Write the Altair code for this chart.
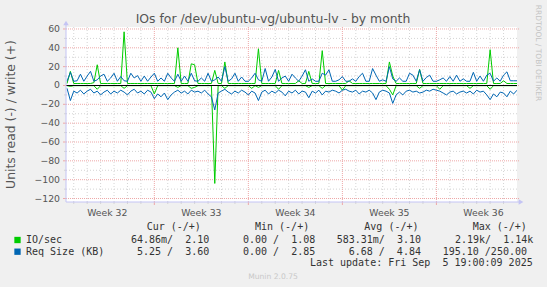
import altair as alt
import pandas as pd

# ------------------------------------------------------------------ text
TITLE = "IOs for /dev/ubuntu-vg/ubuntu-lv - by month"
Y_TITLE = "Units read (-) / write (+)"
SIDE_TEXT = "RRDTOOL / TOBI OETIKER"
FOOTER = "Munin 2.0.75"
WEEK_LABELS = ["Week 32", "Week 33", "Week 34", "Week 35", "Week 36"]
LEG_HEADERS = ["Cur (-/+)", "Min (-/+)", "Avg (-/+)", "Max (-/+)"]
SERIES_NAMES = ["IO/sec", "Req Size (KB)"]
ROW_IO = ["64.86m/  2.10", "0.00 /  1.08", "583.31m/  3.10", "2.19k/  1.14k"]
ROW_RQ = ["5.25 /  3.60", "0.00 /  2.85", "6.68 /  4.84", "195.10 /250.00"]
LAST_UPDATE = "Last update: Fri Sep  5 19:00:09 2025"

# ------------------------------------------------------------------ axes (days since Mon of week 32)
WEEK_CENTERS = [3.5, 10.5, 17.5, 24.5, 31.5]
WEEK_STARTS = [7, 14, 21, 28]
DAY_LINES = [d for d in range(1, 34) if d % 7 != 0]
Y_MAJOR = [60, 40, 20, 0, -20, -40, -60, -80, -100, -120]
Y_MINOR = [50, 30, 10, -10, -30, -50, -70, -90, -110]
X_DOMAIN = [0.424, 34.0]
Y_DOMAIN = [-123.7, 62.1]

# ------------------------------------------------------------------ series (6-hour samples, starting day 0.5)
DAYS = [0.5 + 0.25 * i for i in range(135)]

io_write = [
    2.1, 15, 2.1, 2.1, 2.1, 2.1, 2.1, 2.1, 3, 22,
    2.1, 2.1, 2.1, 2.1, 2.1, 2.1, 2.1, 57, 2.1, 2.1,
    2.1, 2.1, 2.1, 2.1, 2.1, 2.1, 2.1, 2.1, 2.1, 2.1,
    2.1, 2.1, 2.1, 40, 2.1, 2.1, 2.1, 23, 22, 2.1,
    2.1, 2.1, 2.1, 2.1, 16, 2.1, 2.1, 25, 2.1, 2.1,
    2.1, 2.1, 2.1, 2.1, 2.1, 2.1, 2.1, 39, 2.1, 2.1,
    2.1, 2.1, 2.1, 16, 2.1, 2.1, 2.1, 2.1, 2.1, 5,
    2.1, 2.1, 15, 2.1, 2.1, 2.1, 37, 2.1, 2.1, 2.1,
    2.1, 2.1, 2.1, 2.1, 5, 2.1, 2.1, 2.1, 2.1, 2.1,
    2.1, 2.1, 2.1, 2.1, 2.1, 2.1, 25, 10, 2.1, 2.1,
    2.1, 2.1, 2.1, 2.1, 2.1, 17, 2.1, 2.1, 2.1, 2.1,
    2.1, 2.1, 2.1, 2.1, 2.1, 2.1, 2.1, 2.1, 2.1, 2.1,
    2.1, 2.1, 2.1, 2.1, 2.1, 2.1, 38, 2.1, 2.1, 2.1,
    5, 2.1, 2.1, 2.1, 2.1,
]
io_read = [
    -0.2, -1, -0.2, -0.2, -0.2, -0.2, -0.2, -0.2, -0.2, -4,
    -0.2, -0.2, -0.2, -0.2, -0.2, -0.2, -0.2, -3, -0.2, -0.2,
    -0.2, -0.2, -0.2, -0.2, -0.2, -0.2, -9, -0.2, -0.2, -0.2,
    -0.2, -0.2, -0.2, -2, -0.2, -0.2, -0.2, -3, -2, -0.2,
    -0.2, -0.2, -0.2, -0.2, -104, -0.2, -0.2, -3, -0.2, -0.2,
    -0.2, -0.2, -0.2, -0.2, -0.2, -3, -0.2, -2, -0.2, -0.2,
    -0.2, -0.2, -0.2, -4, -0.2, -0.2, -0.2, -0.2, -0.2, -0.2,
    -0.2, -0.2, -2, -0.2, -0.2, -0.2, -3, -0.2, -0.2, -0.2,
    -0.2, -0.2, -5, -0.2, -0.2, -0.2, -0.2, -0.2, -0.2, -0.2,
    -0.2, -0.2, -0.2, -0.2, -0.2, -0.2, -4, -10, -0.2, -0.2,
    -0.2, -0.2, -0.2, -0.2, -0.2, -3, -0.2, -0.2, -0.2, -0.2,
    -0.2, -4, -0.2, -0.2, -0.2, -0.2, -0.2, -0.2, -0.2, -0.2,
    -3, -0.2, -0.2, -0.2, -0.2, -0.2, -4, -0.2, -0.2, -0.2,
    -0.2, -0.2, -0.2, -0.2, -0.2,
]
rq_write = [
    4.5, 14, 4.5, 5, 12, 4.5, 10, 15, 4.5, 6,
    10, 12, 4.5, 8, 13, 4.5, 9.5, 5, 4.5, 13,
    8, 10.5, 4.5, 10, 4.5, 9, 13, 4.5, 8, 4.5,
    13, 8, 4.5, 12, 4.5, 10, 4.5, 13, 5, 4.5,
    8, 4.5, 13, 4.5, 6, 9, 4.5, 20, 4.5, 7,
    13, 4.5, 9, 4.5, 4.5, 8, 13, 6, 4.5, 18,
    4.5, 9, 17, 4.5, 8, 10, 4.5, 12, 8, 4.5,
    10, 16.7, 4.5, 7, 4.5, 4.5, 13, 11, 16.7, 4.5,
    4.5, 6, 9.5, 4.5, 4.5, 7, 4.5, 9.5, 13, 4.5,
    4.5, 18, 11, 4.5, 6, 4.5, 20, 7, 4.5, 8,
    4.5, 4.5, 13, 11, 4.5, 16.7, 4.5, 8.5, 11, 4.5,
    4.5, 6, 8, 4.5, 9.5, 4.5, 11, 4.5, 7, 4.5,
    4.5, 14, 4.5, 10, 4.5, 11, 13, 4.5, 8, 4.5,
    11, 14.5, 5, 5, 5,
]
rq_read = [
    -3, -16, -6, -8, -5, -9, -6, -4, -8, -6,
    -10, -7, -5, -9, -6, -8, -5, -7, -10, -6,
    -4, -8, -6, -9, -5, -7, -14, -9, -12, -8,
    -15, -10, -7, -5, -8, -6, -9, -5, -7, -6,
    -8, -5, -9, -12, -26, -8, -6, -4, -7, -9,
    -6, -8, -5, -7, -10, -6, -8, -16, -7, -5,
    -9, -6, -8, -5, -7, -11, -6, -8, -5, -9,
    -6, -7, -13, -6, -8, -5, -10, -6, -7, -5,
    -6, -8, -5, -4, -6, -7, -5, -9, -6, -7,
    -5, -8, -15, -7, -5, -6, -8, -19, -10, -7,
    -10, -6, -5, -7, -6, -8, -7, -5, -6, -4,
    -5, -6, -8, -10, -7, -6, -9, -7, -6, -8,
    -6, -9, -5, -7, -6, -10, -15, -9, -12, -7,
    -8, -12, -6, -9, -5,
]
for s in (io_write, io_read, rq_write, rq_read):
    assert len(s) == len(DAYS)

GREEN = "#00CC00"
BLUE = "#0066B3"

# ------------------------------------------------------------------ layout / style
W, H = 451, 175
PAD_L, PAD_T, PAD_R, PAD_B = 66, 27, 30, 85
AXIS_C = "#C4C4F4"
MAJOR_C = "#EEA8A8"
MINOR_C = "#D4D4D4"
LABEL_C = "#555555"
TEXT_C = "#333333"
SANS = "DejaVu Sans"
MONO = "DejaVu Sans Mono"

xs = alt.Scale(domain=X_DOMAIN, nice=False, zero=False)
ys = alt.Scale(domain=Y_DOMAIN, nice=False, zero=False)

rows = []
for name, vals in (("io_read", io_read), ("io_write", io_write),
                   ("rq_read", rq_read), ("rq_write", rq_write)):
    for d, v in zip(DAYS, vals):
        rows.append({"day": d, "value": v, "series": name})
df = pd.DataFrame(rows)

ONE = alt.Data(values=[{"k": 1}])


def vrules(values, color, dash):
    return alt.Chart(pd.DataFrame({"d": values})).mark_rule(
        color=color, strokeDash=dash, strokeWidth=1).encode(
        x=alt.X("d:Q", scale=xs, axis=None), y=alt.value(0), y2=alt.value(H))


def hrules(values, color, dash):
    return alt.Chart(pd.DataFrame({"v": values})).mark_rule(
        color=color, strokeDash=dash, strokeWidth=1).encode(
        y=alt.Y("v:Q", scale=ys, axis=None), x=alt.value(0), x2=alt.value(W + 2))


def xticks(values, color, length):
    return alt.Chart(pd.DataFrame({"d": values})).mark_rule(color=color, strokeWidth=1).encode(
        x=alt.X("d:Q", scale=xs, axis=None), y=alt.value(H), y2=alt.value(H + length))


def yticks(values, color, length):
    return alt.Chart(pd.DataFrame({"v": values})).mark_rule(color=color, strokeWidth=1).encode(
        y=alt.Y("v:Q", scale=ys, axis=None), x=alt.value(-length), x2=alt.value(0))


def series_line(name, color):
    return alt.Chart(df).transform_filter(alt.datum.series == name).mark_line(
        color=color, strokeWidth=1, clip=True).encode(
        x=alt.X("day:Q", scale=xs, axis=None),
        y=alt.Y("value:Q", scale=ys, axis=None))


def label(text, x, y, size, color, font=SANS, align="left", baseline="middle", angle=0):
    return alt.Chart(alt.Data(values=[{"t": text.replace(" ", "\u00a0")}])).mark_text(
        align=align, baseline=baseline, fontSize=size, font=font, color=color, angle=angle).encode(
        text="t:N", x=alt.value(x - PAD_L), y=alt.value(y - PAD_T))


y_labels = alt.Chart(pd.DataFrame({"v": Y_MAJOR})).mark_text(
    align="right", baseline="middle", font=SANS, fontSize=9.3, color=LABEL_C).encode(
    y=alt.Y("v:Q", scale=ys, axis=None), x=alt.value(-6), text=alt.Text("v:Q", format="d"))

x_labels = alt.Chart(pd.DataFrame({"d": WEEK_CENTERS, "t": WEEK_LABELS})).mark_text(
    align="center", baseline="middle", font=SANS, fontSize=9.3, color=LABEL_C).encode(
    x=alt.X("d:Q", scale=xs, axis=None), y=alt.value(213 - PAD_T), text="t:N")

layers = [
    vrules(DAY_LINES, MINOR_C, [1, 2]),
    hrules(Y_MINOR, MINOR_C, [1, 2]),
    vrules(WEEK_STARTS, MAJOR_C, [1, 1]),
    hrules(Y_MAJOR, MAJOR_C, [1, 1]),
    xticks(DAY_LINES, MINOR_C, 2),
    xticks(WEEK_STARTS, MAJOR_C, 3),
    yticks(Y_MINOR, MINOR_C, 2),
    yticks(Y_MAJOR, MAJOR_C, 3),
    series_line("io_read", GREEN),
    series_line("io_write", GREEN),
    alt.Chart(pd.DataFrame({"v": [0]})).mark_rule(color="#000000", strokeWidth=1.2).encode(
        y=alt.Y("v:Q", scale=ys, axis=None), x=alt.value(0), x2=alt.value(W)),
    series_line("rq_read", BLUE),
    series_line("rq_write", BLUE),
    # axis lines, extensions and arrows
    alt.Chart(ONE).mark_rule(color=AXIS_C).encode(x=alt.value(0), y=alt.value(-4), y2=alt.value(H)),
    alt.Chart(ONE).mark_rule(color=AXIS_C).encode(x=alt.value(0), x2=alt.value(W + 3), y=alt.value(H)),
    alt.Chart(ONE).mark_point(shape="triangle-up", filled=True, size=30, color=AXIS_C, opacity=1).encode(
        x=alt.value(0), y=alt.value(-4)),
    alt.Chart(ONE).mark_point(shape="triangle-right", filled=True, size=30, color=AXIS_C, opacity=1).encode(
        x=alt.value(W + 4), y=alt.value(H)),
    y_labels,
    x_labels,
    # titles
    label(TITLE, 273, 19, 12.4, LABEL_C, align="center"),
    label(Y_TITLE, 11, 114.5, 12.4, LABEL_C, align="center", angle=270),
    label(SIDE_TEXT, 538, 53, 7.5, "#C4C4C4", align="center", angle=90),
    label(FOOTER, 273, 277, 7.6, "#C8C8C8", align="center"),
    # legend
    label(LEG_HEADERS[0], 146.7, 227.3, 10, TEXT_C, font=MONO),
    label(LEG_HEADERS[1], 255, 227.3, 10, TEXT_C, font=MONO),
    label(LEG_HEADERS[2], 364.3, 227.3, 10, TEXT_C, font=MONO),
    label(LEG_HEADERS[3], 472.7, 227.3, 10, TEXT_C, font=MONO),
    alt.Chart(ONE).mark_square(size=40, color=GREEN, opacity=1).encode(
        x=alt.value(17.5 - PAD_L), y=alt.value(240 - PAD_T)),
    alt.Chart(ONE).mark_square(size=40, color=BLUE, opacity=1).encode(
        x=alt.value(17.5 - PAD_L), y=alt.value(251.7 - PAD_T)),
    label(SERIES_NAMES[0], 26, 239.7, 10, TEXT_C, font=MONO),
    label(SERIES_NAMES[1], 26, 251.7, 10, TEXT_C, font=MONO),
    label(ROW_IO[0], 131, 239.7, 10, TEXT_C, font=MONO),
    label(ROW_IO[1], 243, 239.7, 10, TEXT_C, font=MONO),
    label(ROW_IO[2], 336.7, 239.7, 10, TEXT_C, font=MONO),
    label(ROW_IO[3], 455, 239.7, 10, TEXT_C, font=MONO),
    label(ROW_RQ[0], 137, 251.7, 10, TEXT_C, font=MONO),
    label(ROW_RQ[1], 243, 251.7, 10, TEXT_C, font=MONO),
    label(ROW_RQ[2], 348.7, 251.7, 10, TEXT_C, font=MONO),
    label(ROW_RQ[3], 442.7, 251.7, 10, TEXT_C, font=MONO),
    label(LAST_UPDATE, 532.7, 263.3, 10, TEXT_C, font=MONO, align="right"),
]

chart = alt.layer(*layers).properties(
    width=W, height=H,
    padding={"left": PAD_L, "top": PAD_T, "right": PAD_R, "bottom": PAD_B},
    autosize=alt.AutoSizeParams(type="none"),
).configure(background="#F0F0F0").configure_view(stroke=None, fill="#FFFFFF")

chart.save("out.html", embed_options={"renderer": "svg", "actions": False})
